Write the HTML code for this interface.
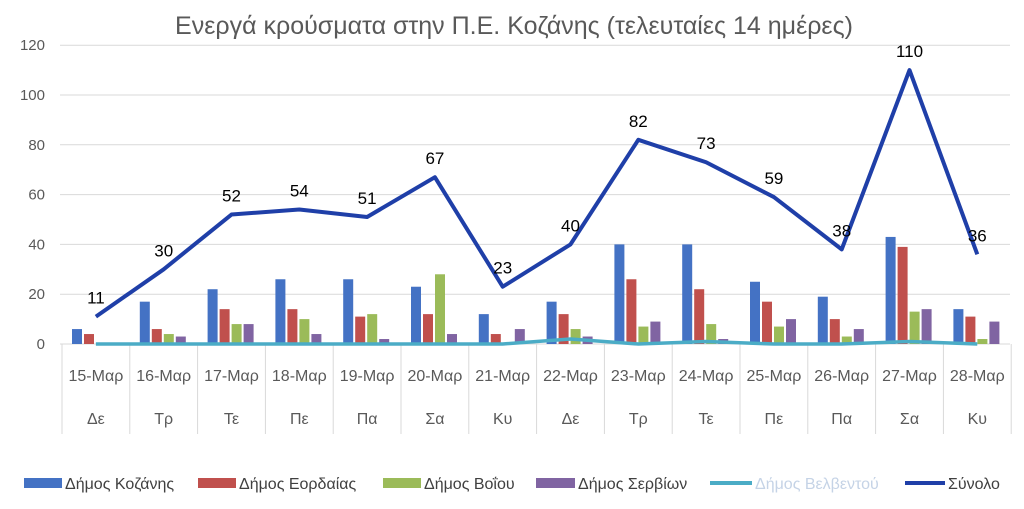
<!DOCTYPE html>
<html><head><meta charset="utf-8"><style>
body{margin:0;background:#fff;}
svg{display:block;font-family:"Liberation Sans","DejaVu Sans",sans-serif;}
</style></head><body>
<svg id="c" width="1024" height="509" viewBox="0 0 1024 509"></svg>
<script>
const s=document.getElementById('c');
let h='';
h+='<text x="514" y="34" text-anchor="middle" font-size="25" fill="#595959">Ενεργά κρούσματα στην Π.Ε. Κοζάνης (τελευταίες 14 ημέρες)</text>';
const y=v=>344-v*2.49;
for(let v=0;v<=120;v+=20){
 if(v>0)h+=`<line x1="60" x2="1010" y1="${y(v)}" y2="${y(v)}" stroke="#d9d9d9"/>`;
 h+=`<text x="45" y="${y(v)+5}" text-anchor="end" font-size="15" fill="#595959">${v}</text>`;
}
h+=`<line x1="60" x2="1010" y1="344" y2="344" stroke="#d9d9d9"/>`;
const W=67.8,x0=62;
for(let i=0;i<=14;i++)h+=`<line x1="${x0+i*W}" x2="${x0+i*W}" y1="344" y2="434" stroke="#d9d9d9"/>`;
const days=['Δε','Τρ','Τε','Πε','Πα','Σα','Κυ','Δε','Τρ','Τε','Πε','Πα','Σα','Κυ'];
const K=[6,17,22,26,26,23,12,17,40,40,25,19,43,14],E=[4,6,14,14,11,12,4,12,26,22,17,10,39,11],
V=[0,4,8,10,12,28,0,6,7,8,7,3,13,2],S=[0,3,8,4,2,4,6,3,9,2,10,6,14,9],
B=[0,0,0,0,0,0,0,2,0,1,0,0,1,0],T=[11,30,52,54,51,67,23,40,82,73,59,38,110,36];
const cols=['#4472c4','#c0504d','#9bbb59','#8064a2'];
for(let i=0;i<14;i++){
 const cx=x0+i*W;
 [K,E,V,S].forEach((d,j)=>{if(d[i]>0)h+=`<rect x="${cx+10+j*12}" y="${y(d[i])}" width="10" height="${d[i]*2.49}" fill="${cols[j]}"/>`;});
 h+=`<text x="${cx+W/2}" y="381" text-anchor="middle" font-size="16" fill="#595959">${15+i}-Μαρ</text>`;
 h+=`<text x="${cx+W/2}" y="424" text-anchor="middle" font-size="16" fill="#595959">${days[i]}</text>`;
}
const px=i=>x0+i*W+W/2;
h+=`<polyline fill="none" stroke="#4bacc6" stroke-width="3.5" points="${B.map((v,i)=>px(i)+','+y(v)).join(' ')}"/>`;
h+=`<polyline fill="none" stroke="#1f3fa8" stroke-width="4" stroke-linejoin="round" points="${T.map((v,i)=>px(i)+','+y(v)).join(' ')}"/>`;
T.forEach((v,i)=>{h+=`<text x="${px(i)}" y="${y(v)-13}" text-anchor="middle" font-size="17" fill="#000">${v}</text>`;});
const leg=[[24,62,'#4472c4','Δήμος Κοζάνης',0],[198,236,'#c0504d','Δήμος Εορδαίας',0],[383,421,'#9bbb59','Δήμος Βοΐου',0],[536,575,'#8064a2','Δήμος Σερβίων',0],[710,752,'#4bacc6','Δήμος Βελβεντού',1],[905,945,'#1f3fa8','Σύνολο',1]];
leg.forEach(([x,x2,c,t,l])=>{
 if(l)h+=`<rect x="${x}" y="481" width="${x2-x}" height="4" fill="${c}"/>`;
 else h+=`<rect x="${x}" y="478" width="${x2-x}" height="10" fill="${c}"/>`;
 h+=`<text x="${x2+3}" y="489" font-size="16" fill="${l&&c=='#4bacc6'?'#c5d3e6':'#404040'}">${t}</text>`;
});
s.innerHTML=h;
</script>
</body></html>
